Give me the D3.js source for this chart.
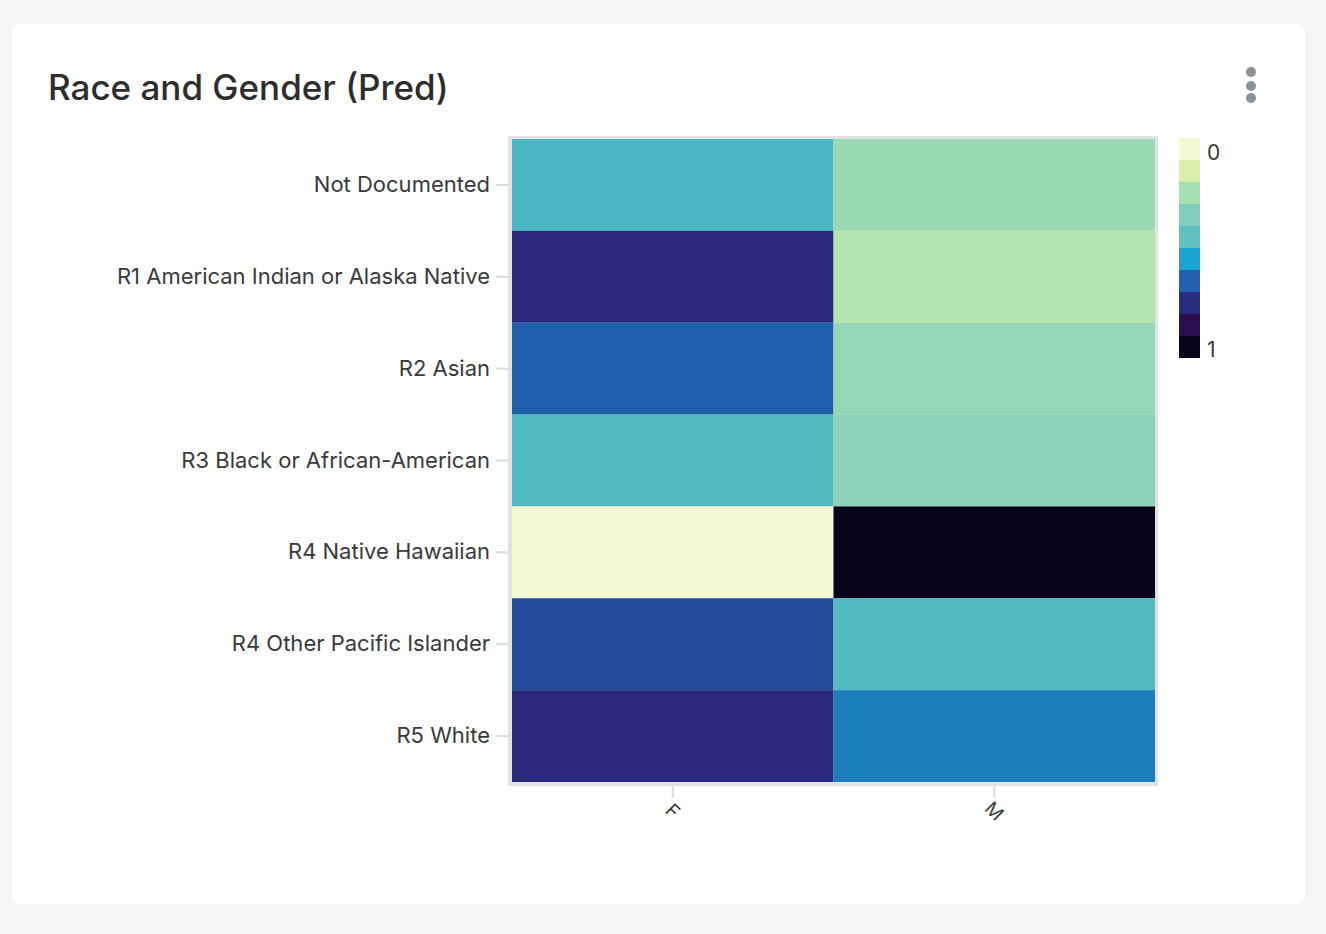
<!DOCTYPE html>
<html>
<head>
<meta charset="utf-8">
<script src="https://cdn.jsdelivr.net/npm/d3@7"></script>
<style>
  body { margin: 0; background: #f5f5f5; }
  svg { display: block; font-family: Inter, "Noto Sans", sans-serif; }
</style>
</head>
<body>
<svg id="chart"></svg>
<script>
const races = [
    "Not Documented",
    "R1 American Indian or Alaska Native",
    "R2 Asian",
    "R3 Black or African-American",
    "R4 Native Hawaiian",
    "R4 Other Pacific Islander",
    "R5 White",
];
const genders = ["F", "M"];

// predicted share per race, F / M
const valuesF = [0.48, 0.79, 0.67, 0.47, 0.00, 0.71, 0.79];
const valuesM = [0.26, 0.19, 0.27, 0.30, 1.00, 0.47, 0.62];

const colorStops = ["#f3f9d3", "#d8f0a8", "#a6e0b0", "#7fcdbb", "#62c0bf",
    "#1aa4d0", "#1f62ad", "#2a2c82", "#2a1050", "#08051a"];
const legendTicks = [0, 1];

const width = 1326;
const height = 934;

const svg = d3.select("#chart")
    .attr("width", width)
    .attr("height", height);

// card
svg.append("rect")
    .attr("x", 12).attr("y", 24)
    .attr("width", 1293).attr("height", 880)
    .attr("rx", 8)
    .attr("fill", "#fff");

svg.append("text")
    .attr("x", 48).attr("y", 100)
    .attr("font-size", 35)
    .attr("font-weight", 500)
    .attr("fill", "#2d2d2d")
    .text("Race and Gender (Pred)");

// menu dots
svg.selectAll(".dot")
    .data([72, 86, 98])
    .join("circle")
    .attr("cx", 1251).attr("cy", d => d)
    .attr("r", 5)
    .attr("fill", "#8a9399");

const plot = { left: 512, right: 1155, top: 139, bottom: 782 };

const x = d3.scaleBand().domain(genders).range([plot.left, plot.right]);
const y = d3.scaleBand().domain(races).range([plot.top, plot.bottom]);

const color = d3.scaleLinear()
    .domain(colorStops.map((c, i) => i / (colorStops.length - 1)))
    .range(colorStops)
    .interpolate(d3.interpolateRgb);

const cells = [];
races.forEach((r, i) => {
    cells.push({ race: r, gender: "F", value: valuesF[i] });
    cells.push({ race: r, gender: "M", value: valuesM[i] });
});

// frame
svg.append("rect")
    .attr("x", plot.left - 4).attr("y", plot.top - 3)
    .attr("width", plot.right - plot.left + 7)
    .attr("height", plot.bottom - plot.top + 7)
    .attr("fill", "#e2e2e2");

svg.append("g")
    .selectAll("rect")
    .data(cells)
    .join("rect")
    .attr("x", d => x(d.gender))
    .attr("y", d => y(d.race))
    .attr("width", x.bandwidth())
    .attr("height", y.bandwidth())
    .attr("fill", d => color(d.value));

// y axis
const yAxis = svg.append("g")
    .attr("transform", `translate(${plot.left - 4},0)`)
    .call(d3.axisLeft(y).tickSize(12).tickPadding(6));
yAxis.select(".domain").remove();
yAxis.selectAll(".tick line").attr("stroke", "#dcdcdc").attr("stroke-width", 2);
yAxis.selectAll(".tick text")
    .attr("font-size", 22)
    .attr("font-family", "Inter, sans-serif")
    .attr("fill", "#3a3a3a");

// x axis
const xAxis = svg.append("g")
    .attr("transform", `translate(0,${plot.bottom + 4})`)
    .call(d3.axisBottom(x).tickSize(12).tickPadding(4));
xAxis.select(".domain").remove();
xAxis.selectAll(".tick line").attr("stroke", "#dcdcdc").attr("stroke-width", 2);
xAxis.selectAll(".tick text")
    .attr("font-size", 19)
    .attr("font-family", "Inter, sans-serif")
    .attr("fill", "#3a3a3a")
    .attr("text-anchor", "middle")
    .attr("dy", "0.35em")
    .attr("y", 0)
    .attr("transform", "translate(0,25) rotate(45)");

// legend
const legendY = d3.scaleBand()
    .domain(d3.range(colorStops.length))
    .range([138, 358]);

svg.append("g")
    .selectAll("rect")
    .data(d3.range(colorStops.length))
    .join("rect")
    .attr("x", 1179)
    .attr("y", d => legendY(d))
    .attr("width", 21)
    .attr("height", legendY.bandwidth())
    .attr("fill", d => color(d / (colorStops.length - 1)));

svg.append("g")
    .selectAll("text")
    .data(legendTicks)
    .join("text")
    .attr("x", 1207)
    .attr("y", d => d === 0 ? 160 : 357)
    .attr("font-size", 21)
    .attr("fill", "#3a3a3a")
    .text(d => d);
</script>
</body>
</html>
